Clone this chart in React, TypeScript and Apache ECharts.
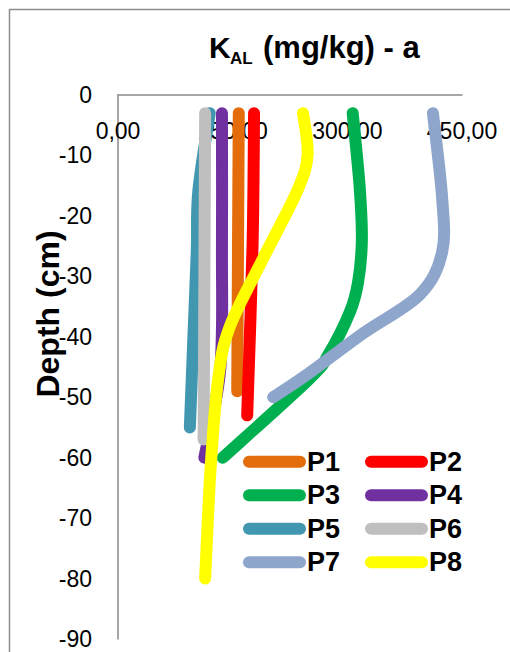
import React, { useEffect, useRef } from "react";
import * as echarts from "echarts";

// K_AL (mg/kg) values and matching depths (cm) for each profile
const P1_K = [158, 157, 156];
const P1_D = [-3, -25, -49];
const P2_K = [178, 176, 169];
const P2_D = [-3, -25, -53];
const P3_K = [307, 316, 319, 314, 303, 275, 250, 137];
const P3_D = [-3, -15, -24, -31, -36, -43, -47, -60];
const P4_K = [136, 136, 134, 113];
const P4_D = [-3, -25, -45, -60];
const P5_K = [120, 105, 103, 98, 94];
const P5_D = [-3, -16, -26, -42, -55];
const P6_K = [114, 113, 112];
const P6_D = [-3, -30, -57];
const P7_K = [412, 424, 424, 395, 321, 250, 203];
const P7_D = [-3, -17, -26, -33, -39.4, -46, -50];
const P8_K = [242, 248, 234, 190, 146, 131, 121, 114];
const P8_D = [-3, -10, -16, -27, -38.4, -47, -62, -80];

const names = ["P1", "P2", "P3", "P4", "P5", "P6", "P7", "P8"];
const colors = ["#E46C0A", "#FF0000", "#00B050", "#7030A0", "#4097AF", "#BFBFBF", "#8EA6CB", "#FFFF00"];
const kValues = [P1_K, P2_K, P3_K, P4_K, P5_K, P6_K, P7_K, P8_K];
const depths = [P1_D, P2_D, P3_D, P4_D, P5_D, P6_D, P7_D, P8_D];

const xTicks = { min: 0, max: 450, interval: 150 };
const yTicks = { min: -90, max: 0, interval: 10 };

const FONT = "'Liberation Sans', Arial, sans-serif";

// Excel-like smoothed scatter line (Catmull-Rom through the points, in pixel space)
function smoothPath(pts: number[][]): string {
  let d = `M${pts[0][0]} ${pts[0][1]}`;
  for (let j = 0; j < pts.length - 1; j++) {
    const p0 = pts[j - 1] || pts[j];
    const p1 = pts[j];
    const p2 = pts[j + 1];
    const p3 = pts[j + 2] || pts[j + 1];
    const c1x = p1[0] + (p2[0] - p0[0]) / 6;
    const c1y = p1[1] + (p2[1] - p0[1]) / 6;
    const c2x = p2[0] - (p3[0] - p1[0]) / 6;
    const c2y = p2[1] - (p3[1] - p1[1]) / 6;
    d += ` C${c1x} ${c1y} ${c2x} ${c2y} ${p2[0]} ${p2[1]}`;
  }
  return d;
}

export default function App() {
  const ref = useRef<HTMLDivElement>(null);
  useEffect(() => {
    if (!ref.current) return;
    const chart = echarts.init(ref.current, undefined, { renderer: "svg" });
    const series = names.map((n, i) => ({
      name: n,
      type: "custom",
      silent: true,
      clip: false,
      data: kValues[i].map((k, j) => [k, depths[i][j]]),
      encode: { x: 0, y: 1 },
      itemStyle: { color: colors[i] },
      renderItem: (params: any, api: any) => {
        if (params.dataIndex !== 0) return null;
        const pts = kValues[i].map((k, j) => api.coord([k, depths[i][j]]));
        return {
          type: "path",
          shape: { pathData: smoothPath(pts) },
          style: {
            fill: "none",
            stroke: colors[i],
            lineWidth: 12,
            lineCap: "round",
            lineJoin: "round",
          },
        };
      },
    }));
    const icon = "path://M6 0H57A6 6 0 0 1 57 12H6A6 6 0 0 1 6 0Z";
    const legendCommon = {
      orient: "vertical",
      top: 445,
      padding: 0,
      itemGap: 0,
      itemWidth: 63,
      itemHeight: 12,
      icon,
      selectedMode: false,
      itemStyle: { borderWidth: 0 },
      textStyle: {
        fontFamily: FONT,
        fontWeight: "bold",
        fontSize: 27,
        color: "#000",
        lineHeight: 33.5,
        padding: [0, 0, 0, -4],
      },
    };
    chart.setOption({
      animation: false,
      backgroundColor: "#fff",
      grid: { left: 118, top: 95, right: 48, bottom: 13, containLabel: false },
      xAxis: {
        type: "value",
        position: "top",
        min: xTicks.min,
        max: xTicks.max,
        interval: xTicks.interval,
        axisLine: { show: true, onZero: false, lineStyle: { color: "#8a8a8a", width: 1.5 } },
        axisTick: { show: false },
        splitLine: { show: false },
        axisLabel: {
          inside: true,
          margin: 24,
          fontFamily: FONT,
          fontSize: 23,
          color: "#000",
          formatter: (v: number) => v.toFixed(2).replace(".", ","),
        },
      },
      yAxis: {
        type: "value",
        min: yTicks.min,
        max: yTicks.max,
        interval: yTicks.interval,
        axisLine: { show: true, onZero: false, lineStyle: { color: "#8a8a8a", width: 1.5 } },
        axisTick: { show: false },
        splitLine: { show: false },
        axisLabel: { margin: 26, fontFamily: FONT, fontSize: 23, color: "#000" },
      },
      legend: [
        { ...legendCommon, left: 243, data: ["P1", "P3", "P5", "P7"] },
        { ...legendCommon, left: 365, data: ["P2", "P4", "P6", "P8"] },
      ],
      graphic: [
        {
          type: "rect",
          silent: true,
          shape: { x: 9.5, y: 9.5, width: 600, height: 700 },
          style: { fill: "none", stroke: "#8c8c8c", lineWidth: 1.5 },
        },
        {
          type: "text",
          x: 209,
          y: 47,
          style: { text: "K", font: `bold 30px ${FONT}`, fill: "#000", verticalAlign: "middle", align: "left" },
        },
        {
          type: "text",
          x: 230,
          y: 58,
          style: { text: "AL", font: `bold 17px ${FONT}`, fill: "#000", verticalAlign: "middle", align: "left" },
        },
        {
          type: "text",
          x: 263,
          y: 47,
          style: { text: "(mg/kg) - a", font: `bold 31px ${FONT}`, fill: "#000", verticalAlign: "middle", align: "left" },
        },
        {
          type: "text",
          x: 48,
          y: 314,
          rotation: Math.PI / 2,
          style: { text: "Depth (cm)", font: `bold 32px ${FONT}`, fill: "#000", verticalAlign: "middle", align: "center" },
        },
      ],
      series,
    });
    return () => chart.dispose();
  }, []);
  return (
    <div
      ref={ref}
      style={{ position: "fixed", left: 0, top: 0, width: 510, height: 652, background: "#fff" }}
    />
  );
}
